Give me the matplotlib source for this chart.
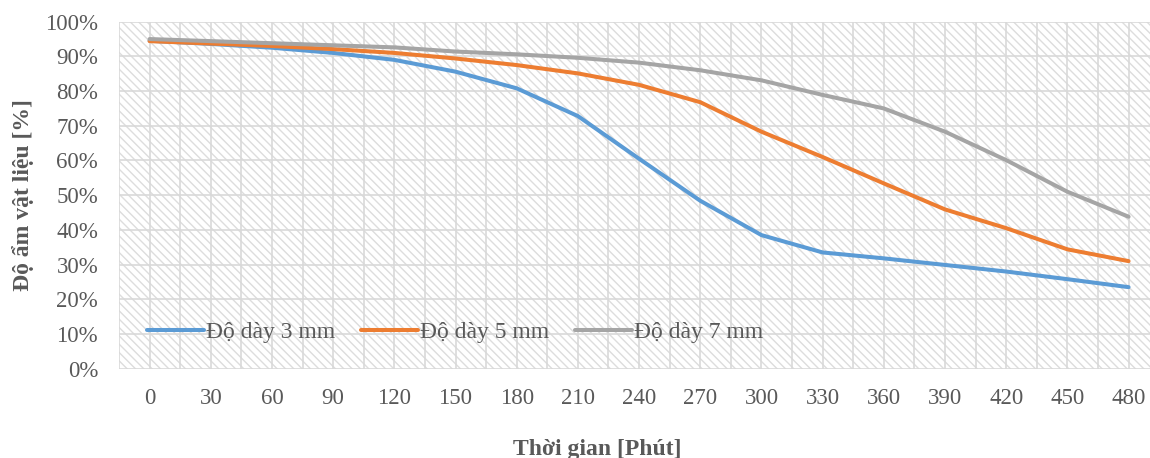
import matplotlib
matplotlib.use("Agg")
from matplotlib import pyplot as plt
from matplotlib.patches import Rectangle
import numpy as np

# data (moisture content in %)
times = [0, 30, 60, 90, 120, 150, 180, 210, 240, 270, 300, 330, 360, 390, 420, 450, 480]
day_3mm = [94.5, 93.6, 92.5, 91.0, 89.0, 85.6, 80.8, 72.8, 60.5, 48.4, 38.5, 33.5, 31.8, 29.9, 28.0, 25.8, 23.5]
day_5mm = [94.4, 93.7, 93.0, 92.1, 91.0, 89.4, 87.5, 85.1, 81.8, 76.8, 68.3, 61.0, 53.4, 45.9, 40.5, 34.4, 31.0]
day_7mm = [95.0, 94.4, 93.8, 93.2, 92.6, 91.4, 90.6, 89.6, 88.2, 86.0, 83.1, 78.9, 75.0, 68.3, 60.1, 51.0, 43.8]
series_names = ["Độ dày 3 mm", "Độ dày 5 mm", "Độ dày 7 mm"]
series_colors = ["#5B9BD5", "#ED7D31", "#A5A5A5"]

plt.rcParams['font.family'] = ['Liberation Serif', 'DejaVu Serif']
plt.rcParams['hatch.linewidth'] = 1.0
text_grey = "#595959"
grid_grey = "#D9D9D9"

fig = plt.figure(figsize=(11.5, 4.58), dpi=100)
ax = fig.add_axes([119/1150, 89.3/458, 1031/1150, 347/458])

#hatched plot background
ax.set_facecolor("white")
ax.add_patch(Rectangle((0, 0), 1, 1, transform=ax.transAxes, facecolor="white",
                       edgecolor="#DDDDDD", hatch="\\\\\\\\", linewidth=0, zorder=0))

x = np.arange(len(times))
for vals, name, col in zip([day_3mm, day_5mm, day_7mm], series_names, series_colors):
    ax.plot(x, vals, color=col, linewidth=2.9, label=name, zorder=3, solid_capstyle="round")

ax.set_xlim(-0.5, 16.35)
ax.set_ylim(0, 100)

#grid
for gx in np.arange(-0.5, 16.5, 0.5):
    ax.axvline(gx, color=grid_grey, linewidth=1.2, zorder=1)
for gy in range(0, 101, 10):
    ax.axhline(gy, color=grid_grey, linewidth=1.2, zorder=1)

for s in ax.spines.values():
    s.set_visible(False)

ax.set_xticks(x)
ax.set_xticklabels([str(t) for t in times])
ax.set_yticks(range(0, 101, 10))
ax.set_yticklabels([f"{v}%" for v in range(0, 101, 10)])
ax.tick_params(axis="both", length=0, labelsize=16.5, colors=text_grey)
ax.tick_params(axis="x", pad=14)
ax.tick_params(axis="y", pad=15)

ax.set_xlabel("Thời gian [Phút]", fontsize=17, fontweight="bold", color=text_grey)
ax.set_ylabel("Độ ẩm vật liệu [%]", fontsize=17, fontweight="bold", color=text_grey)
ax.xaxis.set_label_coords((597 - 119) / 1031, -(439 - 368.7) / 347)
ax.yaxis.set_label_coords((34 - 119) / 1031, 0.5)

leg = ax.legend(loc="center left", bbox_to_anchor=((147 - 119) / 1031, (368.7 - 332) / 347), ncol=3,
                frameon=False, fontsize=17, handlelength=2.4, handletextpad=0.1,
                columnspacing=1.1, borderaxespad=0, borderpad=0)
for t in leg.get_texts():
    t.set_color(text_grey)

fig.savefig("out.png", dpi=100)
